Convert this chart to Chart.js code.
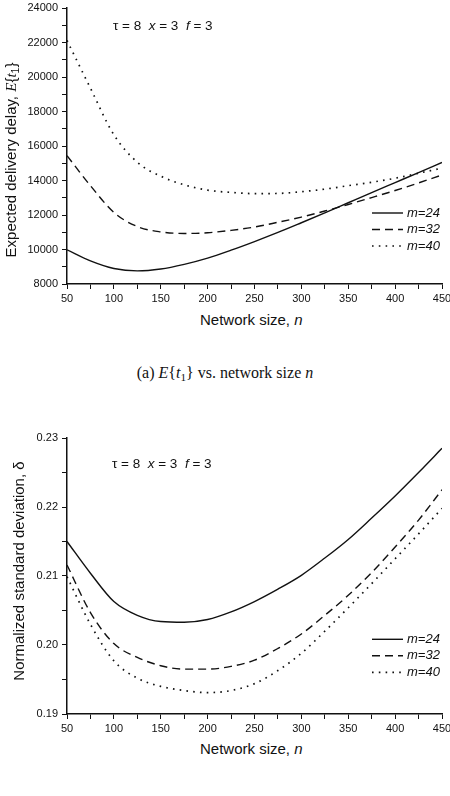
<!DOCTYPE html>
<html>
<head>
<meta charset="utf-8">
<script src="https://cdn.jsdelivr.net/npm/chart.js@4/dist/chart.umd.min.js"></script>
<style>
  body { margin: 0; background: #fff; width: 450px; height: 796px; position: relative; overflow: hidden;
         font-family: "Liberation Sans", Arial, sans-serif; color: #111; }
  canvas { position: absolute; left: 0; }
  .txt { position: absolute; white-space: nowrap; }
  .ytitle { position: absolute; white-space: nowrap; font-size: 15px; line-height: 17px;
            transform: translate(-50%, -50%) rotate(-90deg); }
  .xtitle { font-size: 15px; line-height: 15px; }
  .note { font-size: 13.5px; line-height: 14px; }
  .m { font-family: "Liberation Serif", serif; font-style: italic; }
  .caption { font-family: "Liberation Serif", serif; font-size: 16px; line-height: 16px; }
  sub { font-size: 70%; vertical-align: -3px; line-height: 0; }
</style>
</head>
<body>
<canvas id="delay-chart" width="450" height="310" style="top:0"></canvas>
<canvas id="dev-chart" width="450" height="310" style="top:430px"></canvas>

<div class="ytitle" style="left:10.5px; top:160px">Expected delivery delay, <span class="m">E</span>{<span class="m">t</span><sub>1</sub>}</div>
<div class="txt xtitle" style="left:200px; top:311.6px">Network size, <i>n</i></div>
<div class="txt note" style="left:113px; top:19px">&tau; = 8&nbsp;&nbsp;<i>x</i> = 3&nbsp;&nbsp;<i>f</i> = 3</div>
<div class="txt caption" style="left:225px; top:365px; transform:translateX(-50%)">(a) <span class="m">E</span>{<span class="m">t</span><sub>1</sub>} vs. network size <span class="m">n</span></div>

<div class="ytitle" style="left:17.8px; top:571px">Normalized standard deviation, &delta;</div>
<div class="txt xtitle" style="left:200px; top:741.3px">Network size, <i>n</i></div>
<div class="txt note" style="left:112px; top:456.6px">&tau; = 8&nbsp;&nbsp;<i>x</i> = 3&nbsp;&nbsp;<i>f</i> = 3</div>

<script>
// Network size values (x axis)
const networkSize = [50, 75, 100, 125, 150, 175, 200, 225, 250, 275, 300, 325, 350, 375, 400, 425, 450];
const seriesLabels = ['m=24', 'm=32', 'm=40'];

// (a) expected delivery delay E{t1}
const delayM24 = [9980, 9340, 8900, 8760, 8870, 9140, 9500, 9960, 10460, 10990, 11550, 12120, 12710, 13300, 13880, 14460, 15050];
const delayM32 = [15440, 13700, 12150, 11330, 11020, 10930, 10970, 11110, 11300, 11580, 11880, 12230, 12610, 13010, 13420, 13860, 14320];
const delayM40 = [22120, 19350, 16650, 15060, 14250, 13750, 13440, 13310, 13240, 13250, 13350, 13500, 13700, 13900, 14130, 14420, 14720];

// (b) normalized standard deviation
const devM24 = [0.2150, 0.2104, 0.2063, 0.2043, 0.2034, 0.2033, 0.2037, 0.2048, 0.2063, 0.2081, 0.2101, 0.2126, 0.2153, 0.2184, 0.2216, 0.2250, 0.2285];
const devM32 = [0.2116, 0.2047, 0.2002, 0.1982, 0.1970, 0.1965, 0.1965, 0.1969, 0.1978, 0.1995, 0.2016, 0.2043, 0.2072, 0.2105, 0.2142, 0.2181, 0.2225];
const devM40 = [0.2099, 0.2030, 0.1977, 0.1952, 0.1940, 0.1934, 0.1931, 0.1934, 0.1944, 0.1963, 0.1988, 0.2020, 0.2054, 0.2089, 0.2125, 0.2161, 0.2198];

const lineStyles = [
    { borderDash: [], borderWidth: 1.4 },
    { borderDash: [8, 5], borderWidth: 1.4 },
    { borderDash: [1.6, 5.2], borderWidth: 1.7 }
];
const FONT = '"Liberation Sans", Arial, sans-serif';

// simple line legend drawn inside the plot
const lineLegend = {
    id: 'lineLegend',
    afterDatasetsDraw(chart, args, opts) {
        const ctx = chart.ctx;
        ctx.save();
        chart.data.datasets.forEach((ds, i) => {
            const y = opts.top + i * opts.gap;
            ctx.beginPath();
            ctx.setLineDash(ds.borderDash);
            ctx.lineWidth = ds.borderWidth;
            ctx.strokeStyle = ds.borderColor;
            ctx.moveTo(opts.left, y);
            ctx.lineTo(opts.left + 31, y);
            ctx.stroke();
            ctx.setLineDash([]);
            ctx.fillStyle = '#111';
            ctx.font = 'italic 13px ' + FONT;
            ctx.textBaseline = 'middle';
            ctx.fillText(ds.label, opts.left + 35, y);
        });
        ctx.restore();
    }
};

function makeChart(id, series, yMin, yMax, yStep, yLabel, legendTop) {
    const ctx = document.getElementById(id).getContext('2d');
    return new Chart(ctx, {
        type: 'line',
        data: {
            datasets: series.map((vals, i) => ({
                label: seriesLabels[i],
                data: networkSize.map((n, j) => ({ x: n, y: vals[j] })),
                borderColor: '#111',
                borderDash: lineStyles[i].borderDash,
                borderWidth: lineStyles[i].borderWidth,
                pointRadius: 0,
                fill: false,
                cubicInterpolationMode: 'monotone'
            }))
        },
        options: {
            responsive: false,
            animation: false,
            devicePixelRatio: 1,
            layout: { padding: { left: 0, right: 8, top: 8, bottom: 0 } },
            scales: {
                x: {
                    type: 'linear', min: 50, max: 450,
                    ticks: {
                        stepSize: 25, autoSkip: false, maxRotation: 0, padding: 3,
                        color: '#111', font: { family: FONT, size: 11 },
                        callback: v => (v % 50 === 0 ? String(v) : '')
                    },
                    grid: { drawOnChartArea: false, drawTicks: true, tickLength: 5, color: '#111', tickWidth: 1 },
                    border: { display: true, color: '#111', width: 1.5 },
                    afterFit: s => { s.height = 26; s.paddingLeft = 0; s.paddingRight = 0; }
                },
                y: {
                    min: yMin, max: yMax,
                    ticks: {
                        stepSize: yStep, autoSkip: false, padding: 4,
                        color: '#111', font: { family: FONT, size: 11 },
                        callback: yLabel
                    },
                    grid: { drawOnChartArea: false, drawTicks: true, tickLength: 5, color: '#111', tickWidth: 1 },
                    border: { display: true, color: '#111', width: 1.5 },
                    afterFit: s => { s.width = 67; s.paddingTop = 0; s.paddingBottom = 0; }
                }
            },
            plugins: {
                legend: { display: false },
                tooltip: { enabled: false },
                lineLegend: { left: 372, top: legendTop, gap: 16.5 }
            }
        },
        plugins: [lineLegend]
    });
}

makeChart('delay-chart', [delayM24, delayM32, delayM40], 8000, 24000, 1000,
    v => (v % 2000 === 0 ? String(v) : ''), 213);

makeChart('dev-chart', [devM24, devM32, devM40], 0.19, 0.23, 0.005,
    v => (Math.round(v * 1000) % 10 === 0 ? v.toFixed(2) : ''), 209.3);
</script>
</body>
</html>
